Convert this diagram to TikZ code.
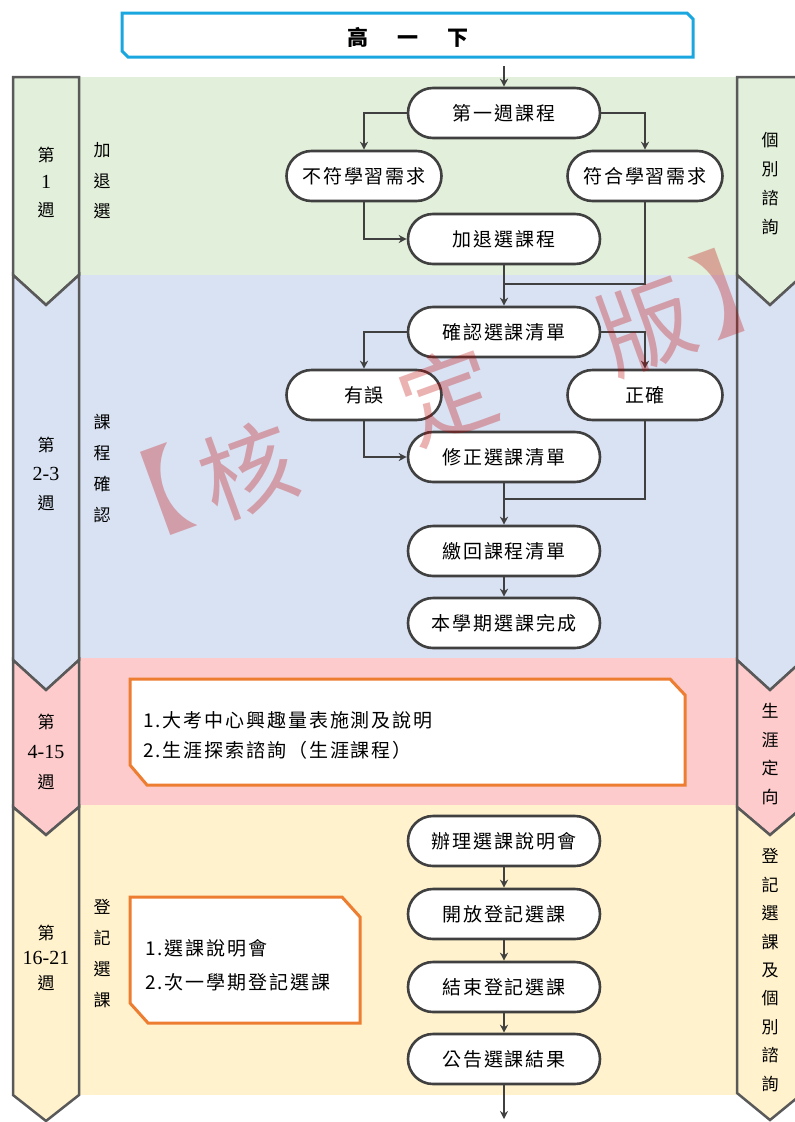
\documentclass[tikz,border=0pt]{standalone}
\usepackage{fontspec}
\setmainfont{Noto Sans CJK TC}
\newfontfamily\cjkls[LetterSpace=10]{Noto Sans CJK TC}
\newfontfamily\serdig{Liberation Serif}
\usetikzlibrary{shapes.misc,arrows.meta}
\definecolor{bgreen}{HTML}{E2EFDA}
\definecolor{bblue}{HTML}{D9E2F3}
\definecolor{bpink}{HTML}{FDCBCB}
\definecolor{byellow}{HTML}{FFF2CC}
\definecolor{lineg}{HTML}{404040}
\definecolor{chevg}{HTML}{595959}
\definecolor{orng}{HTML}{ED7D31}
\definecolor{tblue}{HTML}{1AA7E0}
\definecolor{wmred}{HTML}{C00000}
\newcommand{\dg}[1]{{\serdig\fontsize{20}{20}\selectfont #1}}
\begin{document}
\begin{tikzpicture}[x=1pt,y=-1pt,
  flow/.style={rounded rectangle, draw=lineg, line width=2.6pt, fill=white,
    minimum height=50pt, inner sep=0pt,
    font=\cjkls\fontsize{19}{23}\selectfont},
  wide/.style={flow, minimum width=192pt},
  side/.style={flow, minimum width=155pt},
  conn/.style={draw=lineg, line width=2.8pt},
  arr/.style={conn, -{Stealth[length=8pt,width=8pt]}},
  vlab/.style={align=center, inner sep=0pt},
  chev/.style={draw=chevg, line width=2.5pt, line join=miter},
  obox/.style={draw=orng, line width=3pt, fill=white},
  otext/.style={anchor=west, align=left, inner sep=0pt},
  wm/.style={text=wmred, opacity=0.3, rotate=20, inner sep=0pt,
    font=\fontsize{95}{95}\selectfont}
]
\useasboundingbox (0,0) rectangle (795,1122);
\clip (0,0) rectangle (795,1122);

% bands
\fill[bgreen] (79,77) rectangle (737,275);
\fill[bblue] (79,275) rectangle (737,658);
\fill[bpink] (79,658) rectangle (737,805);
\fill[byellow] (79,805) rectangle (737,1095);

% left chevrons
\filldraw[chev, fill=bgreen] (13,77) -- (79,77) -- (79,275) -- (46,305) -- (13,275) -- cycle;
\filldraw[chev, fill=bblue] (13,275) -- (46,305) -- (79,275) -- (79,660) -- (46,690) -- (13,660) -- cycle;
\filldraw[chev, fill=bpink] (13,660) -- (46,690) -- (79,660) -- (79,807) -- (46,835) -- (13,807) -- cycle;
\filldraw[chev, fill=byellow] (13,807) -- (46,835) -- (79,807) -- (79,1095) -- (46,1121) -- (13,1095) -- cycle;

% right chevrons
\filldraw[chev, fill=bgreen] (737,77) -- (803,77) -- (803,275) -- (770,305) -- (737,275) -- cycle;
\filldraw[chev, fill=bblue] (737,275) -- (770,305) -- (803,275) -- (803,660) -- (770,690) -- (737,660) -- cycle;
\filldraw[chev, fill=bpink] (737,660) -- (770,690) -- (803,660) -- (803,807) -- (770,835) -- (737,807) -- cycle;
\filldraw[chev, fill=byellow] (737,807) -- (770,835) -- (803,807) -- (803,1093) -- (770,1120) -- (737,1093) -- cycle;

% left chevron labels
\node[vlab, font=\fontsize{17}{27.5}\selectfont] (w1) at (46,182) {第\\\dg{1}\\週};
\node[vlab, font=\fontsize{17}{29}\selectfont] (w2) at (46,474) {第\\\dg{2-3}\\週};
\node[vlab, font=\fontsize{17}{30}\selectfont] (w3) at (46,752) {第\\\dg{4-15}\\週};
\node[vlab, font=\fontsize{17}{25}\selectfont] (w4) at (46,958) {第\\\dg{16-21}\\週};

% stage labels
\node[vlab, font=\fontsize{17}{30.5}\selectfont] (p1) at (102,181) {加\\退\\選};
\node[vlab, font=\fontsize{17}{31}\selectfont] (p2) at (102,468) {課\\程\\確\\認};
\node[vlab, font=\fontsize{17}{31}\selectfont] (p4) at (102,954) {登\\記\\選\\課};

% right chevron labels
\node[vlab, font=\fontsize{17}{29}\selectfont] (r1) at (770,184) {個\\別\\諮\\詢};
\node[vlab, font=\fontsize{17}{28.5}\selectfont] (r3) at (770,754) {生\\涯\\定\\向};
\node[vlab, font=\fontsize{17}{28.4}\selectfont] (r4) at (770,970) {登\\記\\選\\課\\及\\個\\別\\諮\\詢};

% title
\draw[draw=tblue, line width=3pt, fill=white] (122,13) -- (687,13) -- (693,19) -- (693,57) -- (128,57) -- (122,51) -- cycle;
\node[font=\bfseries\fontsize{21}{24}\selectfont, inner sep=0pt] (title) at (408,37) {高\hspace{29pt}一\hspace{29pt}下};

% flow nodes
\node[wide] (t1) at (504,113) {第一週課程};
\node[side] (n1) at (364,176) {不符學習需求};
\node[side] (y1) at (645,176) {符合學習需求};
\node[wide] (add) at (504,239) {加退選課程};
\node[wide] (chk) at (504,332) {確認選課清單};
\node[side] (err) at (364,395) {有誤};
\node[side] (ok) at (645,395) {正確};
\node[wide] (fix) at (504,457) {修正選課清單};
\node[wide] (ret) at (504,551) {繳回課程清單};
\node[wide] (done) at (504,623) {本學期選課完成};
\node[wide] (s1) at (504,841) {辦理選課說明會};
\node[wide] (s2) at (504,914) {開放登記選課};
\node[wide] (s3) at (504,987) {結束登記選課};
\node[wide] (s4) at (504,1059) {公告選課結果};

% connectors
\coordinate (tb) at (t1.north |- 0,66);
\coordinate (j1) at (add.south |- 0,284);
\coordinate (j2) at (fix.south |- 0,499);
\coordinate (fin) at (s4.south |- 0,1119);
\draw[arr] (tb) -- (t1.north);
\draw[arr] (t1.west) -| (n1.north);
\draw[arr] (t1.east) -| (y1.north);
\draw[arr] (n1.south) |- (add.west);
\draw[arr] (add.south) -- (chk.north);
\draw[conn] (y1.south) |- (j1);
\draw[arr] (chk.west) -| (err.north);
\draw[arr] (chk.east) -| (ok.north);
\draw[arr] (err.south) |- (fix.west);
\draw[arr] (fix.south) -- (ret.north);
\draw[conn] (ok.south) |- (j2);
\draw[arr] (ret.south) -- (done.north);
\draw[arr] (s1.south) -- (s2.north);
\draw[arr] (s2.south) -- (s3.north);
\draw[arr] (s3.south) -- (s4.north);
\draw[arr] (s4.south) -- (fin);

% orange boxes
\draw[obox] (130,679) -- (670,679) -- (685,695) -- (685,785) -- (147,785) -- (130,765) -- cycle;
\node[otext, font=\cjkls\fontsize{19}{30}\selectfont] (b1) at (143,735) {1.大考中心興趣量表施測及說明\\2.生涯探索諮詢（生涯課程）};
\draw[obox] (130,897) -- (342,897) -- (360,917) -- (360,1023) -- (148,1023) -- (130,1003) -- cycle;
\node[otext, font=\cjkls\fontsize{19}{34}\selectfont] (b2) at (145,965) {1.選課說明會\\2.次一學期登記選課};

% watermark
\node[wm] (wm1) at (165,490) {\makebox[0.45em][r]{【}};
\node[wm] (wm2) at (248,470) {核};
\node[wm] (wm3) at (448,395) {定};
\node[wm] (wm4) at (646,326) {版};
\node[wm] (wm5) at (720,293) {\makebox[0.45em][l]{】}};
\end{tikzpicture}
\end{document}
